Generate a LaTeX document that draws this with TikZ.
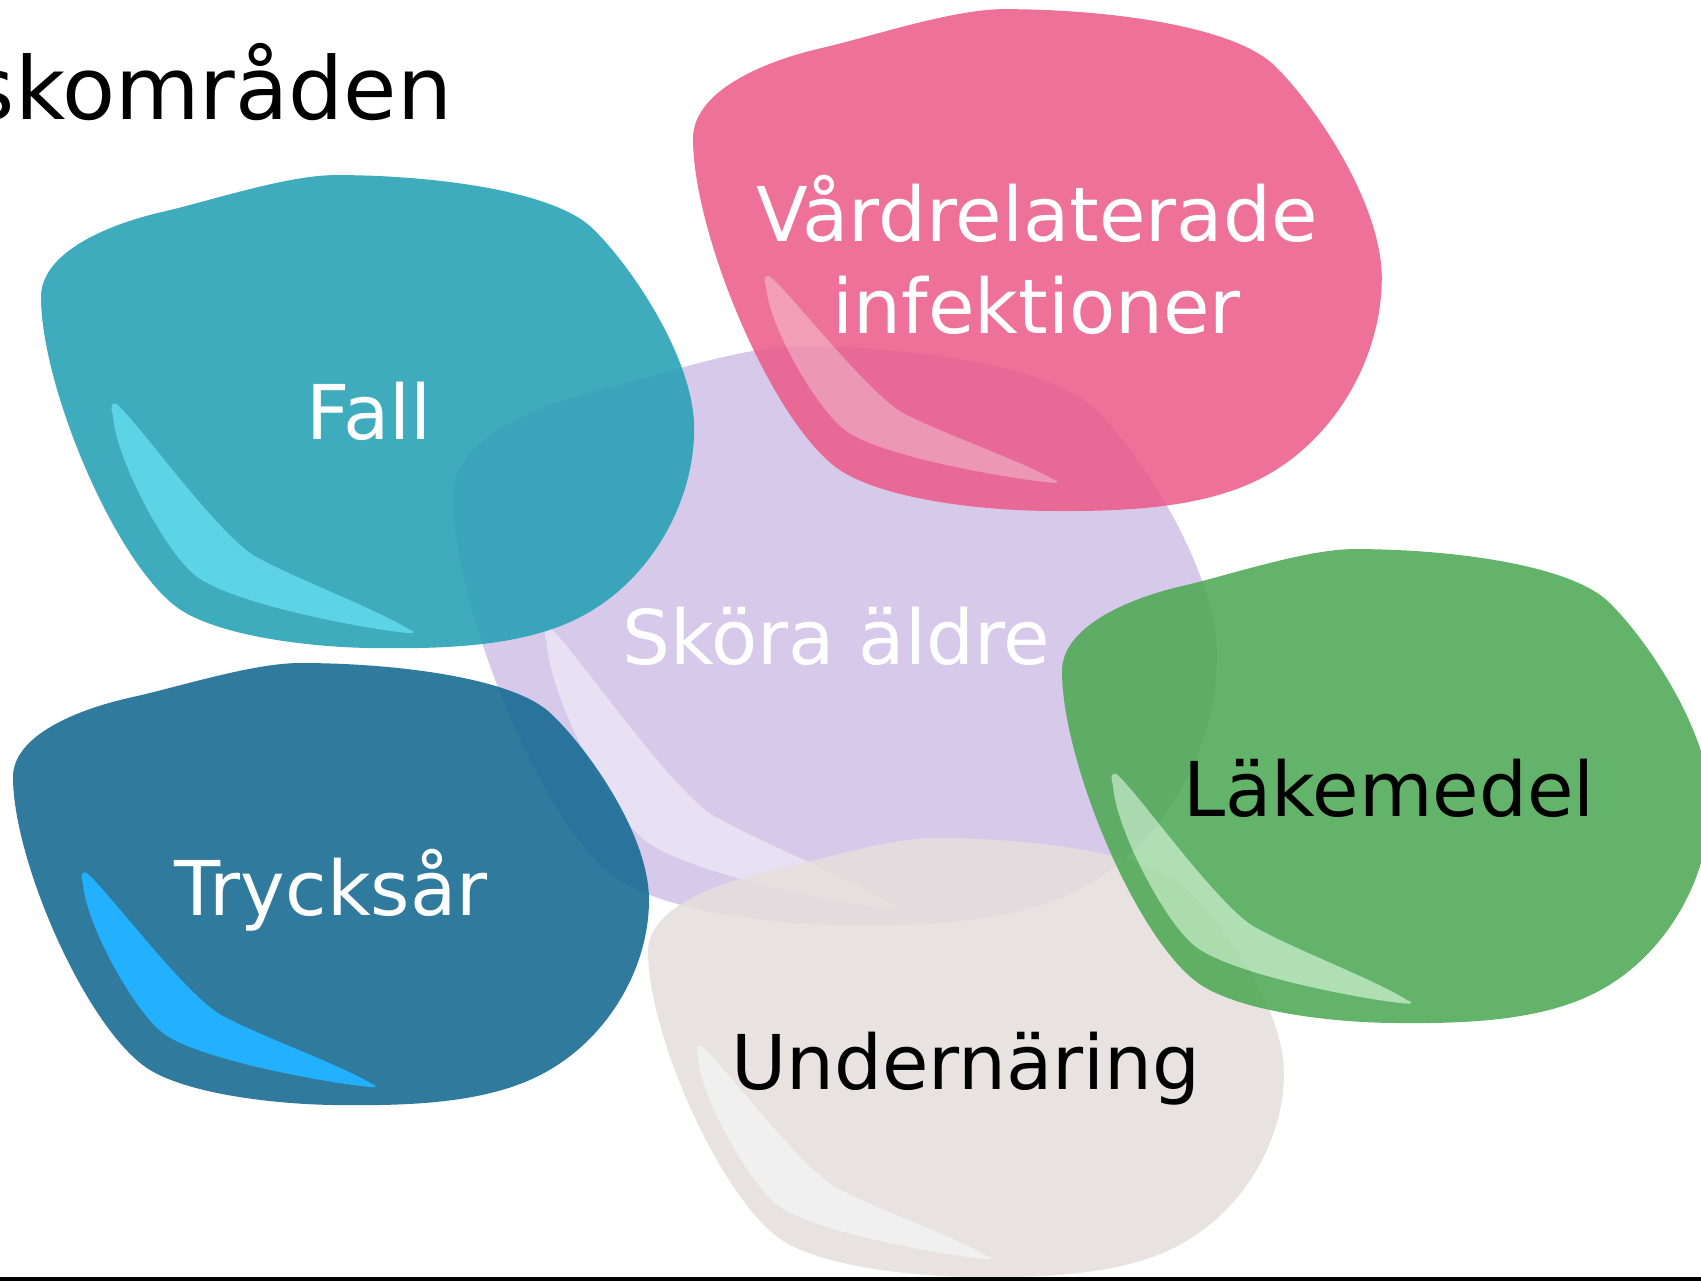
\documentclass[tikz,border=0pt]{standalone}
\usepackage{fontspec}
\setmainfont{DejaVu Sans}
\usetikzlibrary{positioning}

\definecolor{skorabody}{RGB}{210,194,231}
\definecolor{skoraglow}{RGB}{229,221,243}
\definecolor{fallbody}{RGB}{36,160,180}
\definecolor{fallglow}{RGB}{71,205,226}
\definecolor{vardbody}{RGB}{236,93,139}
\definecolor{vardglow}{RGB}{240,145,174}
\definecolor{tryckbody}{RGB}{19,104,145}
\definecolor{tryckglow}{RGB}{4,165,255}
\definecolor{underbody}{RGB}{229,223,221}
\definecolor{underglow}{RGB}{239,238,238}
\definecolor{lakebody}{RGB}{77,169,85}
\definecolor{lakeglow}{RGB}{165,219,168}

\tikzset{
  pics/blob/.style n args={3}{code={
    \begin{scope}[transparency group,opacity=0.88]
    % outline
    \fill[#1] (0,115) .. controls (0,75) and (60,48) .. (120,35)
      .. controls (165,25) and (240,1) .. (287,1)
      .. controls (380,1) and (495,15) .. (535,49)
      .. controls (570,80) and (636,170) .. (636,238)
      .. controls (636,310) and (590,385) .. (519,417)
      .. controls (464,442) and (390,444) .. (320,443)
      .. controls (260,442) and (177,432) .. (137,408)
      .. controls (75,370) and (0,200) .. cycle;
    % highlight
    \fill[#2,#3] (70,221) .. controls (72,260) and (120,348) .. (150,371)
      .. controls (185,398) and (320,422) .. (358,425)
      .. controls (364,426) and (364,423) .. (359,422)
      .. controls (330,404) and (250,375) .. (214,356)
      .. controls (180,343) and (100,235) .. (76,213)
      .. controls (71,207) and (66,212) .. cycle;
    \end{scope}
  }},
  areatext/.style={font=\fontsize{21.5}{26}\selectfont,inner sep=0pt,anchor=base}
}

\begin{document}
\begin{tikzpicture}[x=0.1mm,y=-0.1mm]
\useasboundingbox (0,0) rectangle (1701,1280);
\clip (0,0) rectangle (1701,1280);

\node[font=\fontsize{24.7}{30}\selectfont,inner sep=0pt,anchor=base east] (title) at (453,119) {skområden};

\pic[xscale=1.201,yscale=1.309] at (453,345) {blob={skorabody}{skoraglow}{shift={(8,6)}}};
\node[areatext,text=white] (skora) at (836,664) {Sköra äldre};

\pic[xscale=1.027,yscale=1.070] at (41,174) {blob={fallbody}{fallglow}{shift={(0,4)}}};
\node[areatext,text=white] (fall) at (369,439) {Fall};

\pic[xscale=1.083,yscale=1.135] at (693,8) {blob={vardbody}{vardglow}{shift={(3,57)},xscale=0.92,yscale=0.85}};
\node[areatext,text=white,align=center] (vard) at (1037,333) {Vårdrelaterade\\infektioner};

\pic at (13,662) {blob={tryckbody}{tryckglow}{}};
\node[areatext,text=white] (tryck) at (331,915) {Trycksår};

\pic[yscale=0.993] at (648,837) {blob={underbody}{underglow}{shift={(-20,0)}}};
\node[areatext] (under) at (966,1089) {Undernäring};

\pic[xscale=1.019,yscale=1.072] at (1062,548) {blob={lakebody}{lakeglow}{shift={(-20,0)}}};
\node[areatext] (lake) at (1389,816) {Läkemedel};

\fill[black] (0,1277) rectangle (1701,1281);
\end{tikzpicture}
\end{document}
